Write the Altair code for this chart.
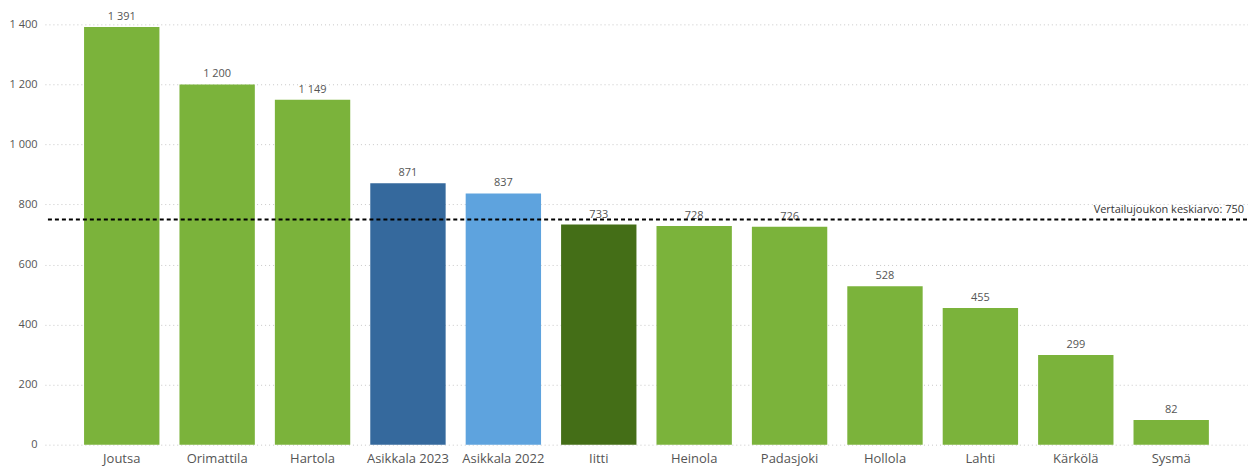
import altair as alt
import pandas as pd

categories = ["Joutsa", "Orimattila", "Hartola", "Asikkala 2023", "Asikkala 2022",
              "Iitti", "Heinola", "Padasjoki", "Hollola", "Lahti", "Kärkölä", "Sysmä"]
values = [1391, 1200, 1149, 871, 837, 733, 728, 726, 528, 455, 299, 82]
colors = ["#7BB33B", "#7BB33B", "#7BB33B", "#35699D", "#5EA3DE",
          "#446E17", "#7BB33B", "#7BB33B", "#7BB33B", "#7BB33B", "#7BB33B", "#7BB33B"]
average_value = 750
average_label = "Vertailujoukon keskiarvo: 750"

W, H = 1205, 421
FONT = "Segoe UI, Open Sans, Noto Sans, sans-serif"

df = pd.DataFrame({"kunta": categories, "arvo": values, "vari": colors})
df["label"] = df["arvo"].map(lambda v: f"{v:,}".replace(",", " "))

x = alt.X("kunta:N", sort=categories, title=None,
          scale=alt.Scale(paddingInner=0.21, paddingOuter=0.41),
          axis=alt.Axis(labelAngle=0, ticks=False, domain=False, labelFontSize=13,
                        labelColor="#555555", labelFont=FONT, labelPadding=8))
y = alt.Y("arvo:Q", title=None,
          scale=alt.Scale(domain=[0, 1400], nice=False),
          axis=alt.Axis(values=[0, 200, 400, 600, 800, 1000, 1200, 1400],
                        labelExpr="replace(format(datum.value, ','), ',', ' ')",
                        domain=False, ticks=False, labelPadding=8, labelFontSize=11,
                        labelColor="#555555", labelFont=FONT,
                        grid=True, gridDash=[1, 3], gridColor="#c8c8c8", gridWidth=1))

base = alt.Chart(df)

bars = base.mark_bar().encode(
    x=x, y=y, color=alt.Color("vari:N", scale=None)
)

labels = base.mark_text(baseline="bottom", dy=-5, fontSize=11, color="#555555", font=FONT).encode(
    x=alt.X("kunta:N", sort=categories), y="arvo:Q", text="label:N"
)

avg_df = pd.DataFrame({"avg": [average_value], "txt": [average_label]})
rule = alt.Chart(avg_df).mark_rule(color="black", strokeWidth=2, strokeDash=[4, 3]).encode(
    y="avg:Q", x=alt.value(3), x2=alt.value(W)
)
avg_text = alt.Chart(avg_df).mark_text(align="right", baseline="bottom", dy=-5, fontSize=11,
                                       color="#333333", font=FONT).encode(
    y="avg:Q", x=alt.value(W - 4), text="txt:N"
)

chart = alt.layer(bars, labels, rule, avg_text).properties(
    width=W, height=H,
    autosize=alt.AutoSizeParams(type="none"),
    padding={"left": 37, "top": 16, "right": 0, "bottom": 30},
).configure_view(stroke=None).configure_axis(labelFont=FONT)

chart.save("out.html", embed_options={"renderer": "svg", "actions": False})
